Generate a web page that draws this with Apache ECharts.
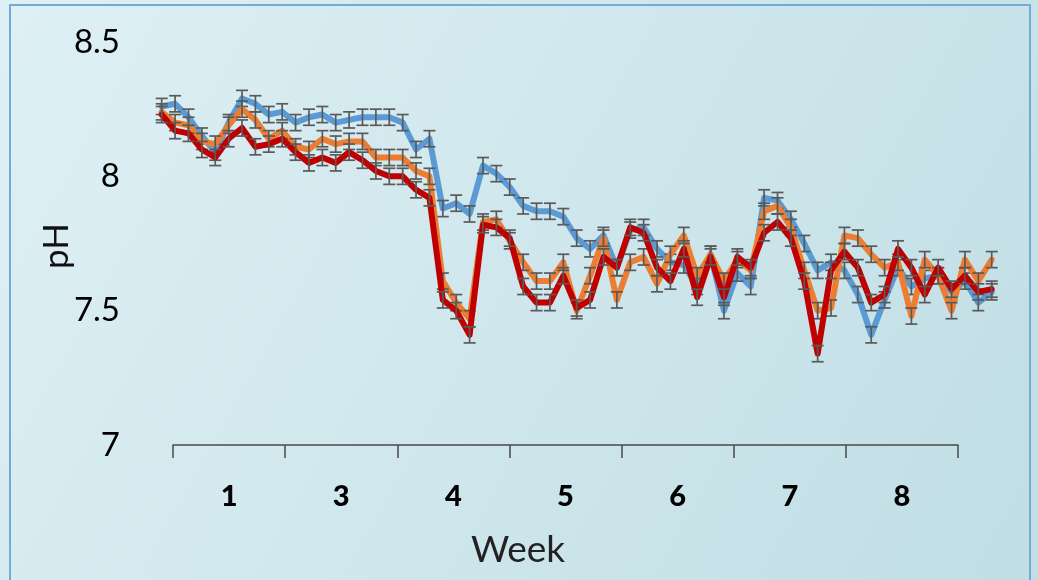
<!DOCTYPE html>
<html>
<head>
<meta charset="utf-8">
<script src="https://cdn.jsdelivr.net/npm/echarts@6/dist/echarts.min.js"></script>
<style>
  html, body { margin: 0; padding: 0; }
  #chart { width: 1038px; height: 580px; }
</style>
</head>
<body>
<div id="chart"></div>
<script>
// Week labels shown under the axis
const weekLabels = ['1', '3', '4', '5', '6', '7', '8'];

// pH readings per sampling point (63 points)
const phBlue = [8.26, 8.27, 8.22, 8.15, 8.09, 8.20, 8.29, 8.27, 8.23, 8.24, 8.20, 8.22, 8.23, 8.20, 8.21, 8.22,
  8.22, 8.22, 8.20, 8.10, 8.14, 7.88, 7.90, 7.86, 8.04, 8.01, 7.96, 7.89, 7.87, 7.87, 7.85,
  7.77, 7.73, 7.78, 7.66, 7.80, 7.81, 7.73, 7.68, 7.67, 7.59, 7.71, 7.50, 7.64, 7.59, 7.92,
  7.91, 7.84, 7.75, 7.65, 7.68, 7.65, 7.56, 7.41, 7.54, 7.66, 7.59, 7.62, 7.63, 7.57, 7.61, 7.53, 7.57];

const phOrange = [8.24, 8.20, 8.19, 8.13, 8.12, 8.19, 8.25, 8.21, 8.14, 8.17, 8.11, 8.10, 8.14, 8.12, 8.13, 8.13,
  8.07, 8.07, 8.07, 8.02, 8.00, 7.61, 7.53, 7.47, 7.83, 7.84, 7.76, 7.68, 7.61, 7.61, 7.68,
  7.50, 7.63, 7.77, 7.54, 7.68, 7.70, 7.60, 7.71, 7.78, 7.63, 7.71, 7.61, 7.69, 7.65, 7.87,
  7.89, 7.81, 7.65, 7.50, 7.51, 7.78, 7.77, 7.71, 7.66, 7.68, 7.48, 7.69, 7.63, 7.50, 7.69, 7.61, 7.69];

const phRed = [8.23, 8.17, 8.16, 8.10, 8.07, 8.14, 8.18, 8.11, 8.12, 8.14, 8.09, 8.05, 8.07, 8.05, 8.09, 8.06,
  8.02, 8.00, 8.00, 7.95, 7.92, 7.54, 7.50, 7.41, 7.82, 7.81, 7.77, 7.59, 7.53, 7.53, 7.63,
  7.51, 7.54, 7.70, 7.66, 7.81, 7.79, 7.66, 7.61, 7.73, 7.55, 7.70, 7.55, 7.70, 7.66, 7.79,
  7.83, 7.77, 7.61, 7.34, 7.65, 7.72, 7.66, 7.53, 7.56, 7.73, 7.66, 7.56, 7.66, 7.58, 7.63, 7.57, 7.58];

// Standard error for each series
const errBlue = 0.03;
const errOrange = 0.03;
const errRed = 0.03;

// Y axis tick values
const yTicks = [7, 7.5, 8, 8.5];

const sampleIdx = phBlue.map((_, i) => String(i + 1));

const chart = echarts.init(document.getElementById('chart'), null, { renderer: 'canvas' });

const FONT = 'Lato, "Open Sans", sans-serif';

function errorBars(values, err, z) {
  return {
    type: 'custom',
    xAxisIndex: 1,
    yAxisIndex: 1,
    z: z,
    silent: true,
    data: values.map((v, i) => [i, v - err, v + err]),
    renderItem: function (params, api) {
      const lo = api.coord([api.value(0), api.value(1)]);
      const hi = api.coord([api.value(0), api.value(2)]);
      const w = 6;
      const style = { stroke: '#5a5a5a', lineWidth: 1.7, fill: null };
      return {
        type: 'group',
        children: [
          { type: 'line', shape: { x1: lo[0], y1: lo[1], x2: hi[0], y2: hi[1] }, style: style },
          { type: 'line', shape: { x1: lo[0] - w, y1: lo[1], x2: lo[0] + w, y2: lo[1] }, style: style },
          { type: 'line', shape: { x1: hi[0] - w, y1: hi[1], x2: hi[0] + w, y2: hi[1] }, style: style }
        ]
      };
    }
  };
}

function phLine(values, color, z) {
  return {
    type: 'line',
    xAxisIndex: 1,
    yAxisIndex: 1,
    data: values,
    z: z,
    symbol: 'none',
    smooth: false,
    lineStyle: { color: color, width: 6, join: 'round', cap: 'round' },
    silent: true
  };
}

chart.setOption({
  animation: false,
  backgroundColor: {
    type: 'linear', x: 0, y: 0, x2: 1, y2: 1,
    colorStops: [
      { offset: 0, color: '#def0f5' },
      { offset: 1, color: '#c0dee4' }
    ]
  },
  graphic: [
    {
      type: 'rect', z: 0,
      shape: { x: 10, y: 5, width: 1020, height: 600 },
      style: { fill: null, stroke: '#74a9d8', lineWidth: 2 }
    },
    {
      type: 'text', z: 10,
      x: 57, y: 246, rotation: Math.PI / 2,
      style: { text: 'pH', font: '35px ' + FONT, fill: '#111', align: 'center', verticalAlign: 'middle' }
    },
    {
      type: 'text', z: 10,
      x: 518, y: 550,
      style: { text: 'Week', font: '37px ' + FONT, fill: '#222', align: 'center', verticalAlign: 'middle' }
    }
  ],
  grid: [
    { left: 173, right: 80, top: 42, bottom: 135 },
    { left: 161.7, right: 46.3, top: 42, bottom: 135 }
  ],
  xAxis: [
    {
      type: 'category',
      gridIndex: 0,
      data: weekLabels,
      boundaryGap: true,
      axisLine: { show: true, lineStyle: { color: '#4a4a4a', width: 1.5 } },
      axisTick: { show: true, alignWithLabel: false, interval: 0, inside: false, length: 13, lineStyle: { color: '#4a4a4a', width: 1.5 } },
      axisLabel: {
        margin: 37, color: '#000',
        textStyle: { fontSize: 29, fontWeight: 900, fontFamily: FONT }
      },
      splitLine: { show: false }
    },
    {
      type: 'category',
      gridIndex: 1,
      data: sampleIdx,
      boundaryGap: false,
      show: false
    }
  ],
  yAxis: [
    {
      type: 'value',
      gridIndex: 0,
      min: yTicks[0],
      max: yTicks[yTicks.length - 1],
      interval: 0.5,
      axisLine: { show: false },
      axisTick: { show: false },
      splitLine: { show: false },
      axisLabel: {
        margin: 53, fontSize: 33, color: '#000', fontFamily: FONT,
        formatter: v => (yTicks.includes(v) ? String(v) : '')
      }
    },
    {
      type: 'value',
      gridIndex: 1,
      min: yTicks[0],
      max: yTicks[yTicks.length - 1],
      show: false
    }
  ],
  series: [
    phLine(phBlue, '#5b9bd5', 2),
    errorBars(phBlue, errBlue, 3),
    phLine(phOrange, '#ed7d31', 4),
    errorBars(phOrange, errOrange, 5),
    phLine(phRed, '#c00000', 6),
    errorBars(phRed, errRed, 7)
  ]
});
</script>
</body>
</html>
